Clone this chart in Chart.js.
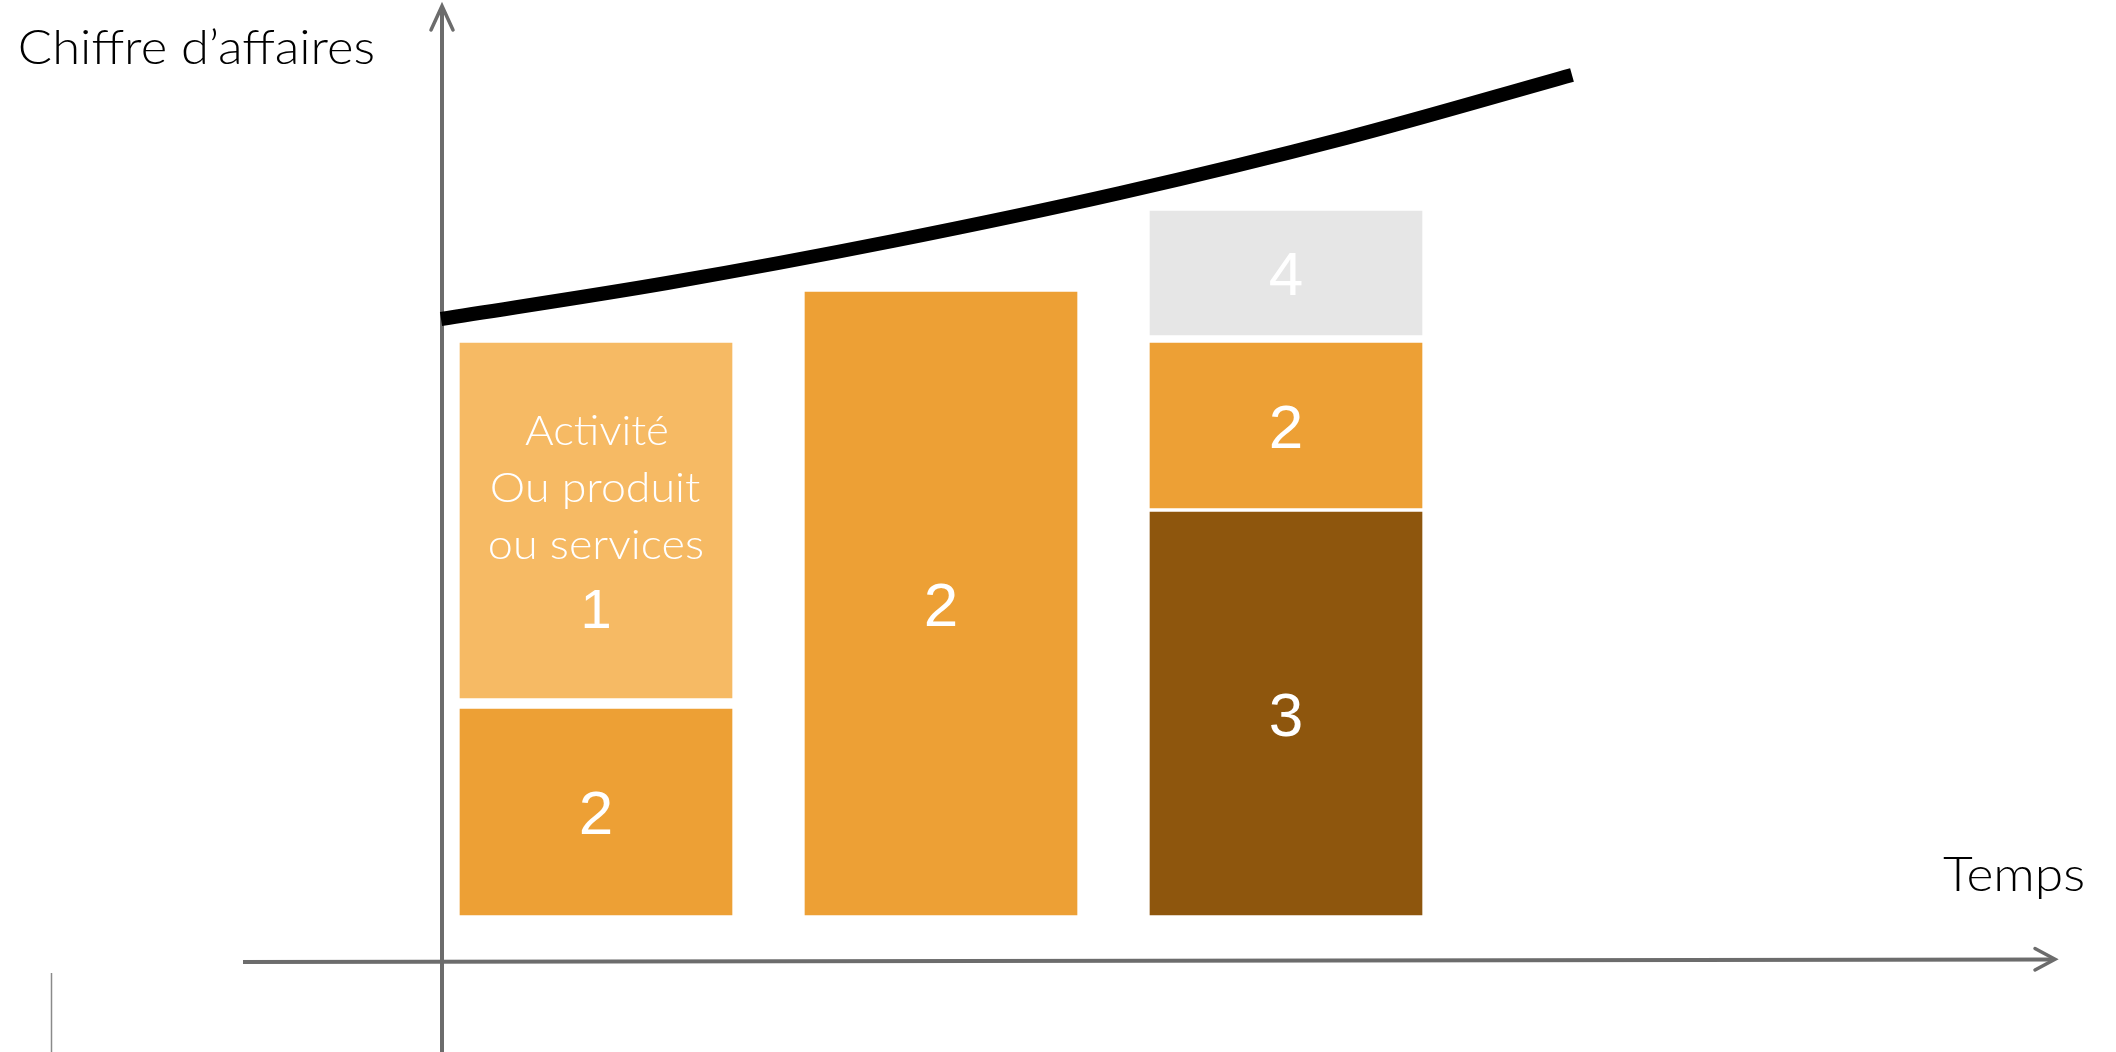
<!DOCTYPE html>
<html><head><meta charset="utf-8">
<script src="https://cdn.jsdelivr.net/npm/chart.js@4.4.1/dist/chart.umd.min.js"></script>
<style>html,body{margin:0;padding:0;background:#fff;overflow:hidden}#wrap{width:2116px;height:1052px;position:relative}</style>
</head><body><div id="wrap"><canvas id="c" width="2116" height="1052"></canvas></div>
<script>
// ---- data (time units on x, turnover units on y) ----
const periods = [15.5, 50.0, 84.5];
const activity1 = [[21.7, 57.2], null, null];
const activity2 = [[0, 20.6], [0, 62.3], [40.7, 57.2]];
const activity3 = [null, null, [0, 40.3]];
const activity4 = [null, null, [58.0, 70.4]];
const activityLabels = ['1', '2', '3', '4'];
const activityCaption = ['Activité', 'Ou produit', 'ou services'];
const trendTime = [0, 22.6, 45.2, 67.9, 90.5, 113.1];
const trendValue = [59.6, 63.2, 67.4, 72.2, 77.7, 84.0];
const yAxisTitle = 'Chiffre d’affaires';
const xAxisTitle = 'Temps';

const colors = ['#F6BA64', '#EDA035', '#8E560D', '#E6E6E6'];
const segs = [activity1, activity2, activity3, activity4];

function toPoints(seg) {
  const out = [];
  periods.forEach((p, i) => { if (seg[i]) out.push({x: p, y: seg[i]}); });
  return out;
}

const datasets = segs.map((seg, k) => ({
  type: 'bar',
  label: activityLabels[k],
  data: toPoints(seg),
  backgroundColor: colors[k],
  borderWidth: 0,
  barThickness: 272,
  grouped: false,
  order: 2
}));
datasets.push({
  type: 'line',
  label: 'CA',
  data: trendTime.map((t, i) => ({x: t, y: trendValue[i]})),
  borderColor: '#000',
  borderWidth: 14,
  borderCapStyle: 'butt',
  pointRadius: 0,
  cubicInterpolationMode: 'monotone',
  fill: false,
  clip: false,
  order: 1
});

const LIGHT = '"Lato", "Open Sans", sans-serif';
const DIGIT = '"Liberation Sans", Arial, sans-serif';

function fitText(ctx, text, x0, baseline, font, targetW) {
  ctx.font = font;
  ctx.textAlign = 'left';
  ctx.textBaseline = 'alphabetic';
  const m = ctx.measureText(text);
  const L = m.actualBoundingBoxLeft, R = m.actualBoundingBoxRight;
  const s = targetW / (L + R);
  ctx.save();
  ctx.translate(x0 + L * s, baseline);
  ctx.scale(s, 1);
  ctx.fillText(text, 0, 0);
  ctx.restore();
}

const axesPlugin = {
  id: 'axesArrows',
  beforeDatasetsDraw(chart) {
    const ctx = chart.ctx;
    const xs = chart.scales.x, ys = chart.scales.y;
    const x0 = xs.getPixelForValue(0) + 1;
    const yA = ys.getPixelForValue(ys.min);
    ctx.save();
    ctx.strokeStyle = '#6c6c6c';
    ctx.lineWidth = 4;
    ctx.lineCap = 'butt';
    ctx.beginPath();
    ctx.moveTo(x0, 1052); ctx.lineTo(x0, 7);
    ctx.stroke();
    ctx.beginPath();
    ctx.moveTo(243, yA); ctx.lineTo(2053, yA - 2.5);
    ctx.stroke();
    ctx.lineWidth = 3.5;
    ctx.lineCap = 'round';
    ctx.lineJoin = 'miter';
    ctx.beginPath();
    ctx.moveTo(x0 - 11, 30); ctx.lineTo(x0, 6); ctx.lineTo(x0 + 11, 30);
    ctx.stroke();
    ctx.beginPath();
    ctx.moveTo(2035, 948.5); ctx.lineTo(2055, 959.3); ctx.lineTo(2035, 970);
    ctx.stroke();
    // faint mark bottom-left
    ctx.strokeStyle = '#8a8a8a';
    ctx.lineWidth = 1.5;
    ctx.lineCap = 'butt';
    ctx.beginPath();
    ctx.moveTo(51.5, 973); ctx.lineTo(51.5, 1052);
    ctx.stroke();
    ctx.restore();
  }
};

const labelPlugin = {
  id: 'segLabels',
  afterDraw(chart) {
    const ctx = chart.ctx;
    ctx.save();
    ctx.fillStyle = '#000';
    fitText(ctx, yAxisTitle, 20, 64, '300 47px ' + LIGHT, 353);
    fitText(ctx, xAxisTitle, 1943, 891, '300 47px ' + LIGHT, 140);
    ctx.fillStyle = '#fff';
    segs.forEach((seg, k) => {
      const meta = chart.getDatasetMeta(k);
      meta.data.forEach((el, i) => {
        const cx = el.x, cy = (el.y + el.base) / 2;
        ctx.textAlign = 'center';
        ctx.textBaseline = 'alphabetic';
        if (k === 0 && i === 0) {
          const widths = [142, 208, 212];
          const offs = [-75.5, -18.5, 38.5];
          activityCaption.forEach((t, j) => {
            const w = widths[j];
            fitText(ctx, t, cx - w / 2, cy + offs[j], '300 42px ' + LIGHT, w);
          });
          ctx.textAlign = 'center';
          ctx.font = '56px ' + DIGIT;
          ctx.fillText(activityLabels[k], cx, cy + 107.5);
        } else {
          ctx.font = '62px ' + DIGIT;
          ctx.fillText(activityLabels[k], cx, cy + 0.716 * 62 / 2);
        }
      });
    });
    ctx.restore();
  }
};

new Chart(document.getElementById('c'), {
  data: {datasets},
  options: {
    responsive: false,
    animation: false,
    devicePixelRatio: 1,
    layout: {padding: {left: 441, right: 56, top: 5, bottom: 90}},
    plugins: {legend: {display: false}, tooltip: {enabled: false}},
    scales: {
      x: {type: 'linear', min: 0, max: 161.9, offset: false, display: false},
      y: {type: 'linear', min: -4.7, max: 91.0, display: false}
    }
  },
  plugins: [axesPlugin, labelPlugin]
});
</script>
</body></html>
